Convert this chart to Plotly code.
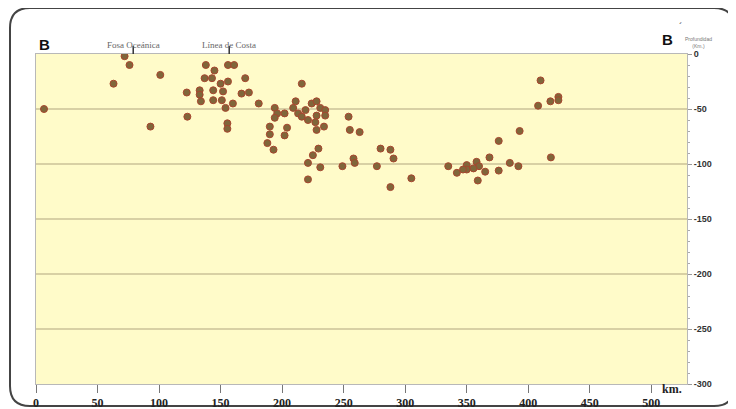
import plotly.graph_objects as go

# Distance along profile (km) and depth (km, negative) of hypocentres
dist_km = [72, 76, 101, 63, 6.5, 122.5, 123, 93, 138, 156, 161, 145, 137, 143, 170, 150,
           156, 133, 133, 144, 152, 167, 173, 134, 144, 151, 160, 154, 181, 155.5, 155.5,
           216, 194, 196, 194, 211, 209, 213, 219, 216, 221, 224, 228, 231, 235, 235, 228,
           227, 202, 228, 234, 204, 202, 190, 190, 188, 193, 229.5, 225, 221, 231, 221,
           254, 255, 263, 249, 258, 259, 280, 288, 290.5, 277, 305, 288, 335,
           410, 408, 418, 424.5, 424.5, 393, 376, 368.5, 418.4, 342, 350, 350, 358, 360,
           355.5, 365, 376, 385, 392, 359, 347]
depth_km = [-2, -10, -19, -27, -50, -35, -57, -66, -10, -10, -10, -15, -22, -22, -22, -27,
            -25, -33, -37, -33, -34, -36, -35, -43, -42, -42, -45, -49, -45, -63, -68,
            -27, -49, -54, -58, -43, -49, -54, -51, -57, -60, -45, -43, -49, -51, -56, -56,
            -62, -54, -69, -66, -67, -74, -66, -73, -81, -87, -86, -92, -99, -103, -114,
            -57, -69, -71, -102, -95, -99, -86, -87, -95, -102, -113, -121, -102,
            -24, -47, -43, -39, -42, -70, -79, -94, -94, -108, -101, -105, -98, -102,
            -104, -107, -106, -99, -102, -115, -105]

x_ticks = [0, 50, 100, 150, 200, 250, 300, 350, 400, 450, 500]
y_ticks = [0, -50, -100, -150, -200, -250, -300]
markers_top = [(79, "Fosa Oceánica"), (157, "Línea de Costa")]

fig = go.Figure()
fig.add_trace(go.Scatter(
    x=dist_km, y=depth_km, mode="markers",
    marker=dict(size=7, color="#80663a", line=dict(color="#a8452e", width=1)),
    showlegend=False, hoverinfo="x+y"))

# page body has an 8px margin: figure is 728x401 placed at (8, 8)
fig.update_layout(
    width=728, height=401,
    margin=dict(l=28, r=49, t=46, b=25, autoexpand=False),
    paper_bgcolor="white",
    plot_bgcolor="#fffbc9",
    xaxis=dict(range=[0, 529], tickvals=x_ticks,
               ticktext=["<b>%d</b>" % v for v in x_ticks],
               ticks="outside", ticklen=8, tickcolor="#777", tickwidth=1,
               showgrid=False, zeroline=False, showline=True, linecolor="#b8b8b8",
               linewidth=1, mirror=True,
               tickfont=dict(family="Liberation Serif", size=12, color="#222")),
    yaxis=dict(range=[-300, 0], side="right", tickvals=y_ticks,
               ticktext=["<b>%d</b>" % v for v in y_ticks],
               ticks="outside", ticklen=4, tickcolor="#999",
               minor=dict(dtick=10, ticks="outside", ticklen=2, tickcolor="#aaa"),
               showgrid=True, gridcolor="#d8d0a4", gridwidth=1.5,
               zeroline=False, showline=True, linecolor="#b8b8b8", linewidth=1,
               mirror=True,
               tickfont=dict(family="Liberation Sans", size=9, color="#333")),
)

# helpers: page pixel -> paper coordinates (plot area spans x 36..687, y 54..384 on page)
def px(v):
    return (v - 36) / 651

def py(v):
    return (384 - v) / 330

for km, label in markers_top:
    fig.add_shape(type="line", xref="x", yref="paper", x0=km, x1=km, y0=1.0, y1=py(46),
                  line=dict(color="#333", width=1.5))
    fig.add_annotation(x=km, y=py(38), xref="x", yref="paper", text=label,
                       showarrow=False,
                       font=dict(family="Liberation Serif", size=9, color="#666"))

fig.add_annotation(x=px(37), y=py(34), xref="paper", yref="paper",
                   text="<b>B</b>", showarrow=False,
                   font=dict(family="Liberation Sans", size=15, color="#111"))
fig.add_annotation(x=px(675), y=py(29), xref="paper", yref="paper",
                   text="<b>B</b>", showarrow=False,
                   font=dict(family="Liberation Sans", size=15, color="#111"))
fig.add_annotation(x=px(684), y=py(20), xref="paper", yref="paper",
                   text="´", showarrow=False,
                   font=dict(family="Liberation Sans", size=10, color="#333"))
fig.add_annotation(x=px(713), y=py(35), xref="paper", yref="paper",
                   text="Profundidad<br>(Km.)", showarrow=False, borderpad=0,
                   font=dict(family="Liberation Sans", size=5, color="#777"))
fig.add_annotation(x=px(684), y=py(398), xref="paper", yref="paper",
                   text="<b>km.</b>", showarrow=False,
                   font=dict(family="Liberation Serif", size=12, color="#222"))

# rounded outer frame
L, R, T, B = 10, 734, 8, 406
rx, ry = 20, 20
path = (f"M {px(L + rx)},{py(T)} L {px(R - rx)},{py(T)} Q {px(R)},{py(T)} {px(R)},{py(T + ry)} "
        f"L {px(R)},{py(B - ry)} Q {px(R)},{py(B)} {px(R - rx)},{py(B)} "
        f"L {px(L + rx)},{py(B)} Q {px(L)},{py(B)} {px(L)},{py(B - ry)} "
        f"L {px(L)},{py(T + ry)} Q {px(L)},{py(T)} {px(L + rx)},{py(T)} Z")
fig.add_shape(type="path", xref="paper", yref="paper", path=path,
              line=dict(color="#444", width=2), layer="below")

fig.write_html("out.html")
